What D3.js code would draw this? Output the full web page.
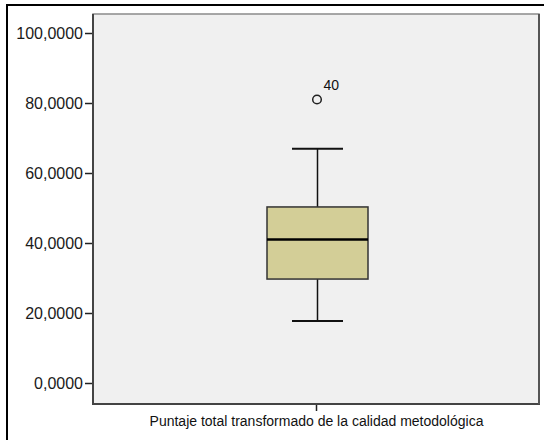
<!DOCTYPE html>
<html><head><meta charset="utf-8">
<script src="https://cdn.jsdelivr.net/npm/d3@7"></script>
<style>body{margin:0;background:#fff}svg{display:block}</style>
</head><body>
<svg id="c" width="544" height="440"></svg>
<script>
const categories = ["Puntaje total transformado de la calidad metodológica"];
const q1Values = [29.7];
const medianValues = [41.0];
const q3Values = [50.3];
const whiskerLow = [17.7];
const whiskerHigh = [66.9];
const outlierValues = [[81.0]];
const outlierLabels = [["40"]];
const yTicks = [0, 20, 40, 60, 80, 100];

const svg = d3.select("#c");
const L = 93, R = 539, T = 14, B = 404;
const font = "'Liberation Sans', Arial, sans-serif";

// outer frame
svg.append("line").attr("x1",7).attr("x2",7).attr("y1",4).attr("y2",440).attr("stroke","#000").attr("stroke-width",2);
svg.append("line").attr("x1",6).attr("x2",544).attr("y1",5).attr("y2",5).attr("stroke","#000").attr("stroke-width",2);

const y = d3.scaleLinear().domain([-6, 105.43]).range([B, T]);
const x = d3.scalePoint().domain(categories).range([L, R]).padding(0.5);
const boxW = 101, capW = 51;

// plot background + frame
svg.append("rect").attr("x",L).attr("y",T).attr("width",R-L).attr("height",B-T)
  .attr("fill","#f0f0f0").attr("stroke","#8a8a8a").attr("stroke-width",1.5);
svg.append("line").attr("x1",L).attr("x2",L).attr("y1",T).attr("y2",B+1).attr("stroke","#444").attr("stroke-width",2);
svg.append("line").attr("x1",L).attr("x2",R+1).attr("y1",B).attr("y2",B).attr("stroke","#444").attr("stroke-width",2);
svg.append("line").attr("x1",R).attr("x2",R).attr("y1",T).attr("y2",B).attr("stroke","#555").attr("stroke-width",2);

// y axis
const yAxis = d3.axisLeft(y).tickValues(yTicks).tickSize(7).tickPadding(2)
  .tickFormat(d => d3.format(".4f")(d).replace(".", ","));
const gy = svg.append("g").attr("transform",`translate(${L-1},0)`).call(yAxis);
gy.select(".domain").remove();
gy.selectAll(".tick line").attr("stroke","#222").attr("stroke-width",1.5);
gy.selectAll(".tick text").attr("fill","#1a1a1a").style("font-family",font).style("font-size","16px");

// x axis
const xAxis = d3.axisBottom(x).tickSize(6).tickPadding(5);
const gx = svg.append("g").attr("transform",`translate(0,${B+1})`).call(xAxis);
gx.select(".domain").remove();
gx.selectAll(".tick line").attr("stroke","#222").attr("stroke-width",1.5);
gx.selectAll(".tick text").attr("fill","#111").style("font-family",font).style("font-size","14px");

// boxes
categories.forEach((c, i) => {
  const cx = x(c) + 1.5;
  const g = svg.append("g");
  g.append("line").attr("x1",cx).attr("x2",cx).attr("y1",y(whiskerHigh[i])).attr("y2",y(q3Values[i])).attr("stroke","#111").attr("stroke-width",1.5);
  g.append("line").attr("x1",cx).attr("x2",cx).attr("y1",y(q1Values[i])).attr("y2",y(whiskerLow[i])).attr("stroke","#111").attr("stroke-width",1.5);
  g.append("line").attr("x1",cx-capW/2).attr("x2",cx+capW/2).attr("y1",y(whiskerHigh[i])).attr("y2",y(whiskerHigh[i])).attr("stroke","#111").attr("stroke-width",2);
  g.append("line").attr("x1",cx-capW/2).attr("x2",cx+capW/2).attr("y1",y(whiskerLow[i])).attr("y2",y(whiskerLow[i])).attr("stroke","#111").attr("stroke-width",2);
  g.append("rect").attr("x",cx-boxW/2).attr("y",y(q3Values[i])).attr("width",boxW).attr("height",y(q1Values[i])-y(q3Values[i]))
    .attr("fill","#d3ce97").attr("stroke","#333").attr("stroke-width",1.5);
  g.append("line").attr("x1",cx-boxW/2).attr("x2",cx+boxW/2).attr("y1",y(medianValues[i])).attr("y2",y(medianValues[i])).attr("stroke","#000").attr("stroke-width",2.5);
  outlierValues[i].forEach((v, j) => {
    g.append("circle").attr("cx",cx-0.5).attr("cy",y(v)).attr("r",4.3).attr("fill","none").attr("stroke","#222").attr("stroke-width",1.5);
    g.append("text").attr("x",cx+6).attr("y",y(v)-10).text(outlierLabels[i][j])
      .attr("fill","#111").style("font-family",font).style("font-size","14px");
  });
});
</script>
</body></html>
